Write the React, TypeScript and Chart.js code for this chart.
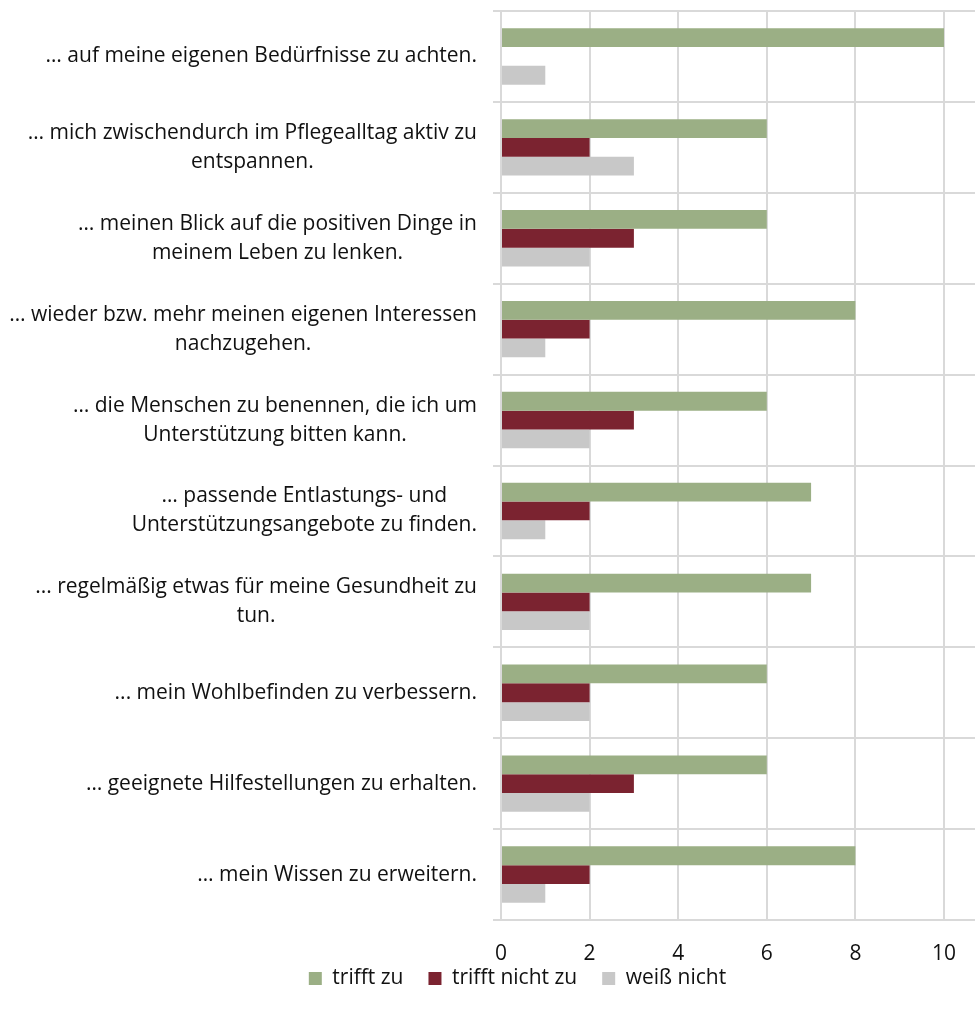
import React, { useEffect, useRef } from "react";
import { Chart, registerables } from "chart.js";

Chart.register(...registerables);

const categories: string[][] = [
  ["… auf meine eigenen Bedürfnisse zu achten."],
  ["… mich zwischendurch im Pflegealltag aktiv zu", "entspannen."],
  ["… meinen Blick auf die positiven Dinge in", "meinem Leben zu lenken."],
  ["… wieder bzw. mehr meinen eigenen Interessen", "nachzugehen."],
  ["… die Menschen zu benennen, die ich um", "Unterstützung bitten kann."],
  ["… passende Entlastungs- und", "Unterstützungsangebote zu finden."],
  ["... regelmäßig etwas für meine Gesundheit zu", "tun."],
  ["... mein Wohlbefinden zu verbessern."],
  ["… geeignete Hilfestellungen zu erhalten."],
  ["… mein Wissen zu erweitern."],
];

const seriesNames = ["trifft zu", "trifft nicht zu", "weiß nicht"];
const trifftZu = [10, 6, 6, 8, 6, 7, 7, 6, 6, 8];
const trifftNichtZu = [0, 2, 3, 2, 3, 2, 2, 2, 3, 2];
const weissNicht = [1, 3, 2, 1, 2, 1, 2, 2, 2, 1];
const xTicks = [0, 2, 4, 6, 8, 10];
const xMax = 10.7;

const FONT = "'Open Sans', sans-serif";
const FONT_SIZE = 21;
const TEXT = "#111111";
const GRID = "#D9D9D9";

const labelPlugin = {
  id: "blockLabels",
  afterLayout(chart: any) {
    const lg = chart.legend;
    if (lg) {
      lg.top = chart.chartArea.bottom + 23;
      lg.bottom = lg.top + 56;
      lg.height = 56;
    }
  },
  afterDraw(chart: any) {
    const scale = chart.scales.y;
    const ctx = chart.ctx;
    ctx.save();
    ctx.font = `${FONT_SIZE}px ${FONT}`;
    ctx.fillStyle = TEXT;
    ctx.textAlign = "center";
    ctx.textBaseline = "middle";
    const rightX = scale.right - 24;
    const lh = 29;
    categories.forEach((lines, i) => {
      const y = scale.getPixelForValue(i);
      const w = Math.max(...lines.map((l) => ctx.measureText(l).width));
      const cx = rightX - w / 2;
      const y0 = y - ((lines.length - 1) * lh) / 2;
      lines.forEach((l, j) => ctx.fillText(l, cx, y0 + j * lh));
    });
    ctx.restore();
  },
};

export default function App() {
  const ref = useRef<HTMLCanvasElement>(null);
  useEffect(() => {
    document.body.style.margin = "0";
    Chart.defaults.font.family = FONT;
    Chart.defaults.font.size = FONT_SIZE;
    Chart.defaults.color = TEXT;
    const chart = new Chart(ref.current!, {
      type: "bar",
      data: {
        labels: categories.map((c) => c.join(" ")),
        datasets: [
          { label: seriesNames[0], data: trifftZu, backgroundColor: "#9BAF85" },
          { label: seriesNames[1], data: trifftNichtZu, backgroundColor: "#7B2330" },
          { label: seriesNames[2], data: weissNicht, backgroundColor: "#C8C8C8" },
        ],
      },
      options: {
        indexAxis: "y",
        responsive: false,
        animation: false,
        datasets: { bar: { categoryPercentage: 0.62, barPercentage: 1 } },
        layout: { padding: { top: 11, left: 60, right: 0, bottom: 0 } },
        plugins: {
          legend: {
            position: "bottom",
            maxHeight: 27,
            labels: {
              boxWidth: 13,
              boxHeight: 13,
              padding: 25,
              color: TEXT,
              font: { size: FONT_SIZE, family: FONT },
            },
          },
          tooltip: { enabled: false },
        },
        scales: {
          x: {
            type: "linear",
            min: 0,
            max: xMax,
            afterBuildTicks: (s: any) => {
              s.ticks = [...xTicks.map((v) => ({ value: v })), { value: xMax }];
            },
            afterFit: (s: any) => {
              s.paddingRight = 0;
              s.paddingLeft = 0;
            },
            ticks: {
              padding: 21.4,
              color: TEXT,
              font: { size: FONT_SIZE, family: FONT },
              callback: (v: any) => (xTicks.includes(Number(v)) ? String(v) : null),
              maxRotation: 0,
            },
            grid: { color: GRID, lineWidth: 2, drawTicks: false },
            border: { display: false },
          },
          y: {
            type: "category",
            afterFit: (s: any) => {
              s.width = 441;
            },
            ticks: { display: false },
            grid: {
              offset: true,
              color: GRID,
              lineWidth: 2,
              drawTicks: true,
              tickLength: 8,
            },
            border: { display: true, color: GRID, width: 2 },
          },
        },
      },
      plugins: [labelPlugin],
    });
    return () => chart.destroy();
  }, []);
  return (
    <div style={{ width: 975, height: 1015 }}>
      <canvas ref={ref} width={975} height={1015} style={{ display: "block" }} />
    </div>
  );
}
